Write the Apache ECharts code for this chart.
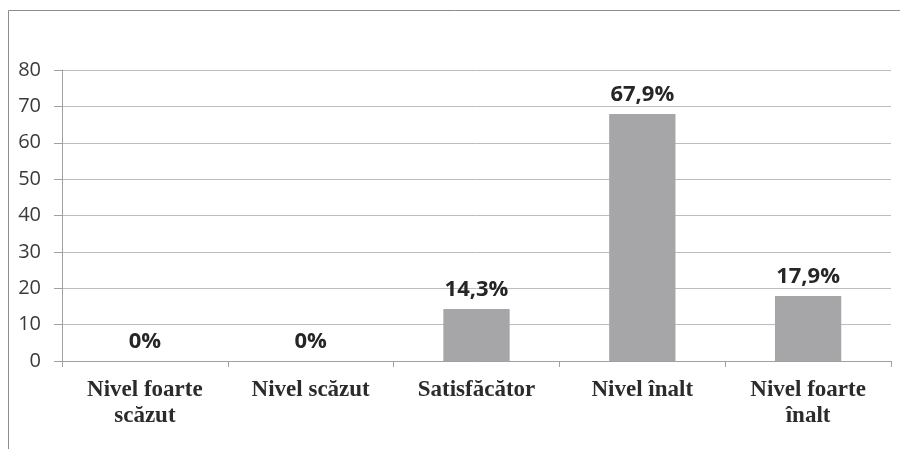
<!DOCTYPE html>
<html><head><meta charset="utf-8">
<script src="https://cdn.jsdelivr.net/npm/echarts@6/dist/echarts.min.js"></script>
<style>html,body{margin:0;padding:0;background:#fff}#c{width:900px;height:449px}</style>
</head><body><div id="c"></div>
<script>
const categories = ["Nivel foarte\nscăzut", "Nivel scăzut", "Satisfăcător", "Nivel înalt", "Nivel foarte\nînalt"];
const values = [0, 0, 14.3, 67.9, 17.9];
const valueLabels = ["0%", "0%", "14,3%", "67,9%", "17,9%"];
const yTicks = [0, 10, 20, 30, 40, 50, 60, 70, 80];

const chart = echarts.init(document.getElementById('c'), null, {renderer: 'canvas'});
chart.setOption({
  animation: false,
  backgroundColor: '#fff',
  graphic: [
    {type: 'line', shape: {x1: 8.5, y1: 10.5, x2: 900, y2: 10.5}, style: {stroke: '#8c8c8c', lineWidth: 1}},
    {type: 'line', shape: {x1: 8.5, y1: 10.5, x2: 8.5, y2: 449}, style: {stroke: '#8c8c8c', lineWidth: 1}}
  ],
  grid: {left: 62, right: 9, top: 70, bottom: 88, containLabel: false},
  xAxis: {
    type: 'category',
    data: categories,
    axisLine: {lineStyle: {color: '#a0a0a0', width: 1}},
    axisTick: {show: true, length: 6, alignWithLabel: false, lineStyle: {color: '#a0a0a0'}},
    axisLabel: {
      interval: 0, margin: 16, color: '#2b2b2b',
      fontFamily: '"Liberation Serif", serif', fontWeight: 'bold', fontSize: 23, lineHeight: 26
    }
  },
  yAxis: {
    type: 'value', min: yTicks[0], max: yTicks[yTicks.length - 1], interval: 10,
    axisLine: {show: true, lineStyle: {color: '#a0a0a0'}},
    axisTick: {show: true, length: 8, lineStyle: {color: '#a0a0a0'}},
    splitLine: {lineStyle: {color: '#bcbcbc', width: 1}},
    axisLabel: {margin: 21, color: '#3a3a3a', fontFamily: '"Open Sans", sans-serif', fontSize: 20}
  },
  series: [{
    type: 'bar',
    data: values,
    barWidth: '40%',
    itemStyle: {color: '#a6a6a8'},
    label: {
      show: true, position: 'top', distance: 8,
      formatter: p => valueLabels[p.dataIndex],
      color: '#262626', fontFamily: '"Open Sans", sans-serif', fontWeight: 'bold', fontSize: 22
    }
  }]
});
</script></body></html>
